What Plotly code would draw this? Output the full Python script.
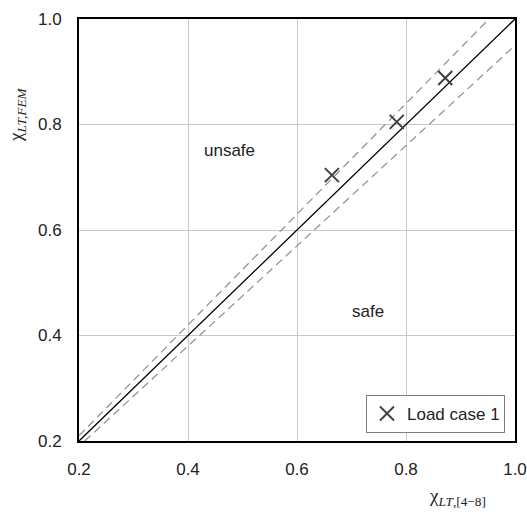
import plotly.graph_objects as go

# Data
load_case_x = [0.664, 0.783, 0.872]
load_case_y = [0.704, 0.805, 0.888]

diag_x = [0.2, 1.0]
diag_y = [0.2, 1.0]
upper_x = [0.2, 0.9524]
upper_y = [0.21, 1.0]
lower_x = [0.2105, 1.0]
lower_y = [0.2, 0.95]

tick_vals = [0.2, 0.4, 0.6, 0.8, 1.0]
tick_text = ["0.2", "0.4", "0.6", "0.8", "1.0"]

FONT = "Liberation Sans, Arial, sans-serif"
SERIF = "Liberation Serif, DejaVu Serif, serif"

fig = go.Figure()
fig.add_trace(go.Scatter(x=upper_x, y=upper_y, mode="lines", showlegend=False,
                         line=dict(color="#969696", width=1.3, dash="8px,5px"), hoverinfo="skip"))
fig.add_trace(go.Scatter(x=lower_x, y=lower_y, mode="lines", showlegend=False,
                         line=dict(color="#969696", width=1.3, dash="8px,5px"), hoverinfo="skip"))
fig.add_trace(go.Scatter(x=diag_x, y=diag_y, mode="lines", showlegend=False,
                         line=dict(color="black", width=1.3), hoverinfo="skip"))
fig.add_trace(go.Scatter(x=load_case_x, y=load_case_y, mode="markers", name="Load case 1",
                         marker=dict(symbol="x-thin", size=14, line=dict(color="#404040", width=2),
                                     color="#404040")))

fig.add_annotation(x=0.477, y=0.75, text="unsafe", showarrow=False,
                   font=dict(family=FONT, size=17, color="#222"))
fig.add_annotation(x=0.73, y=0.445, text="safe", showarrow=False,
                   font=dict(family=FONT, size=17, color="#222"))

# axis titles
fig.add_annotation(xref="paper", yref="paper", x=(457 - 79) / 436, y=(441 - 497) / 422,
                   xanchor="center", yanchor="middle",
                   text="χ<sub><i>LT</i>,[4−8]</sub>", showarrow=False,
                   font=dict(family=SERIF, size=19, color="#222"))
fig.add_annotation(xref="paper", yref="paper", x=(17 - 79) / 436, y=(441 - 115) / 422,
                   xanchor="center", yanchor="middle",
                   text="χ<sub><i>LT,FEM</i></sub>", showarrow=False, textangle=-90,
                   font=dict(family=SERIF, size=19, color="#222"))

axis_common = dict(range=[0.2, 1.0], tickvals=tick_vals, ticktext=tick_text,
                   showgrid=True, gridcolor="#c8c8c8", gridwidth=1,
                   showline=True, linecolor="black", linewidth=2, mirror=True,
                   ticks="", zeroline=False, automargin=False,
                   tickfont=dict(family=FONT, size=17, color="#222"))

fig.update_layout(
    width=527, height=512,
    margin=dict(l=79, r=12, t=19, b=71),
    plot_bgcolor="white", paper_bgcolor="white",
    xaxis=dict(**axis_common, ticklabelstandoff=12),
    yaxis=dict(**axis_common, ticklabelstandoff=12),
    legend=dict(x=(505 - 79) / 436, y=(441 - 433) / 422, xanchor="right", yanchor="bottom",
                bordercolor="#7f7f7f", borderwidth=1, bgcolor="white",
                font=dict(family=FONT, size=17, color="#222"),
                orientation="h", entrywidth=92),
)

fig.write_html("out.html", config={"displayModeBar": False},
               post_script="document.body.style.margin='0';document.body.style.overflow='hidden';")
